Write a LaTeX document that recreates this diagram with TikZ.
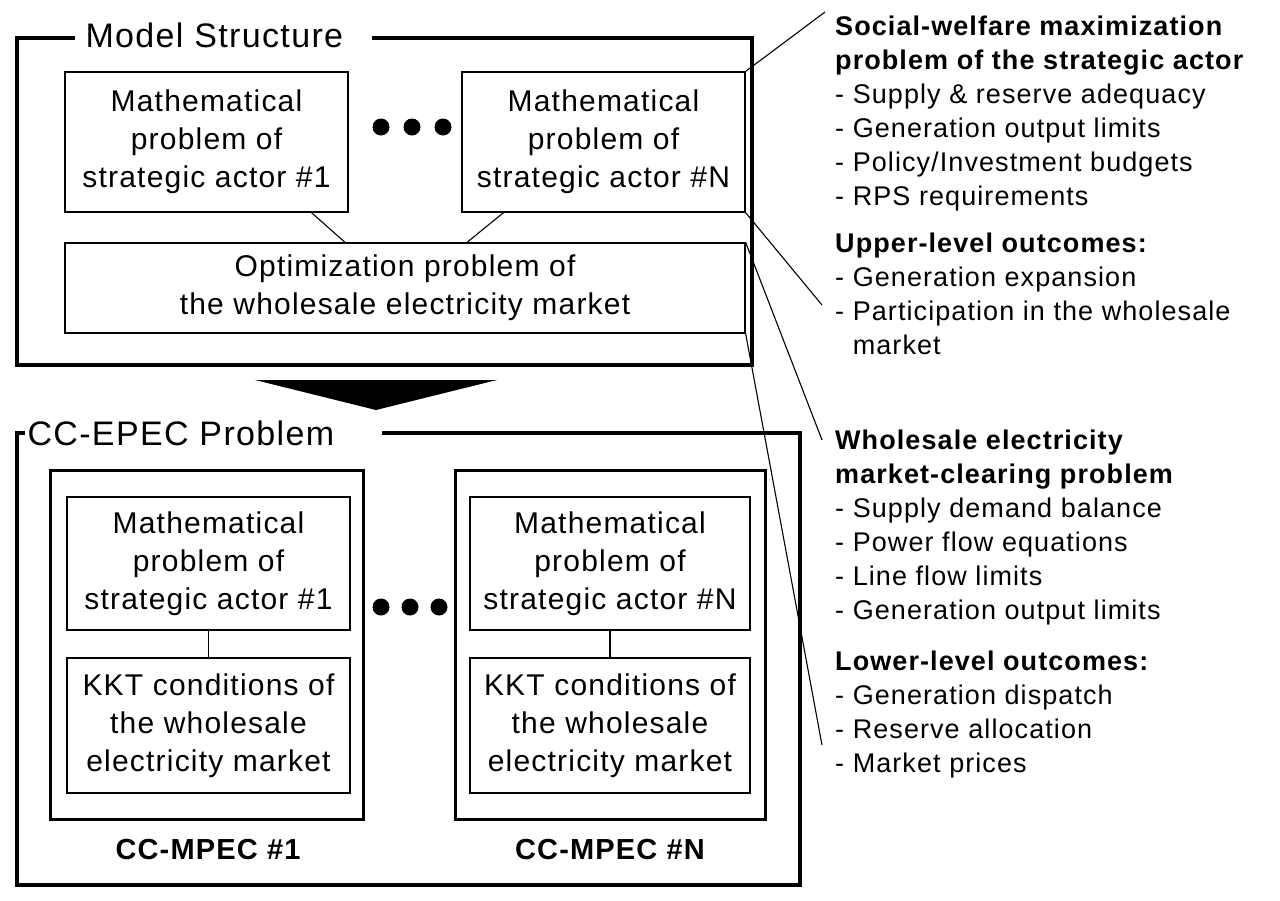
\documentclass[tikz,border=0pt]{standalone}
\usepackage{fontspec}
\setmainfont{Liberation Sans}[LetterSpace=4]
\begin{document}
\begin{tikzpicture}[x=1pt,y=-1pt,
 box/.style={draw,line width=1.3pt,align=center,font=\fontsize{30}{38}\selectfont,inner sep=0},
 thick box/.style={draw,line width=3pt},
 frame/.style={line width=4pt},
 title/.style={font=\fontsize{34}{40}\selectfont,anchor=west},
 side/.style={anchor=north west,align=left,font=\fontsize{27}{34}\selectfont,inner sep=0},
 lk/.style={line width=1.1pt},
 dot/.style={circle,fill,inner sep=0,minimum size=17pt}]
\useasboundingbox (0,0) rectangle (1280,900);
% Model structure frame
\draw[frame] (75,38) -- (17,38) -- (17,365) -- (752,365) -- (752,38) -- (372,38);
\node[title] (ms) at (82,35) {Model Structure};
\node[box,minimum width=283pt,minimum height=140pt] (m1) at (206.5,142) {Mathematical\\problem of\\strategic actor \#1};
\node[box,minimum width=283pt,minimum height=140pt] (mN) at (603.5,142) {Mathematical\\problem of\\strategic actor \#N};
\node[box,minimum width=680pt,minimum height=90pt] (opt) at (405,288) {Optimization problem of\\the wholesale electricity market};
\foreach \x [count=\i] in {381,412,443} \node[dot] (d\i) at (\x,127) {};
\draw[lk] ([xshift=105pt]m1.south) -- ([xshift=-60pt]opt.north);
\draw[lk] ([xshift=-100pt]mN.south) -- ([xshift=62pt]opt.north);
% arrow
\fill (255,380) -- (497,380) -- (376,410) -- cycle;
% CC-EPEC frame
\draw[frame] (25,433) -- (17,433) -- (17,885) -- (800,885) -- (800,433) -- (382,433);
\node[title] (ce) at (24,433) {CC-EPEC Problem};
\node[thick box,minimum width=313pt,minimum height=349pt] (p1) at (206.5,644.5) {};
\node[thick box,minimum width=310pt,minimum height=349pt] (pN) at (610,644.5) {};
\node[box,minimum width=283pt,minimum height=133pt] (s1) at (208.5,563.5) {Mathematical\\problem of\\strategic actor \#1};
\node[box,minimum width=283pt,minimum height=135pt] (k1) at (208.5,725.5) {KKT conditions of\\the wholesale\\electricity market};
\node[box,minimum width=280pt,minimum height=133pt] (sN) at (610,563.5) {Mathematical\\problem of\\strategic actor \#N};
\node[box,minimum width=280pt,minimum height=135pt] (kN) at (610,725.5) {KKT conditions of\\the wholesale\\electricity market};
\draw[lk] (s1) -- (k1);
\draw[lk] (sN) -- (kN);
\foreach \x [count=\i] in {381,410,439} \node[dot] (e\i) at (\x,607) {};
\node[font=\bfseries\fontsize{29}{32}\selectfont] (l1) at (208,850) {CC-MPEC \#1};
\node[font=\bfseries\fontsize{29}{32}\selectfont] (lN) at (610,850) {CC-MPEC \#N};
% right texts
\node[side] (t1) at (835,16) {\textbf{Social-welfare maximization}\\\textbf{problem of the strategic actor}\\- Supply \& reserve adequacy\\- Generation output limits\\- Policy/Investment budgets\\- RPS requirements};
\node[side] (t2) at (835,233) {\textbf{Upper-level outcomes:}\\- Generation expansion\\- Participation in the wholesale\\\hphantom{- }market};
\node[side] (t3) at (835,430) {\textbf{Wholesale electricity}\\\textbf{market-clearing problem}\\- Supply demand balance\\- Power flow equations\\- Line flow limits\\- Generation output limits};
\node[side] (t4) at (835,651) {\textbf{Lower-level outcomes:}\\- Generation dispatch\\- Reserve allocation\\- Market prices};
\coordinate (c1) at (825,12);
\coordinate (c2) at (822,305);
\coordinate (c3) at (822,440);
\coordinate (c4) at (822,745);
\draw[lk] (mN.north east) -- (c1);
\draw[lk] (mN.south east) -- (c2);
\draw[lk] (opt.north east) -- (c3);
\draw[lk] (opt.south east) -- (c4);
\end{tikzpicture}
\end{document}
